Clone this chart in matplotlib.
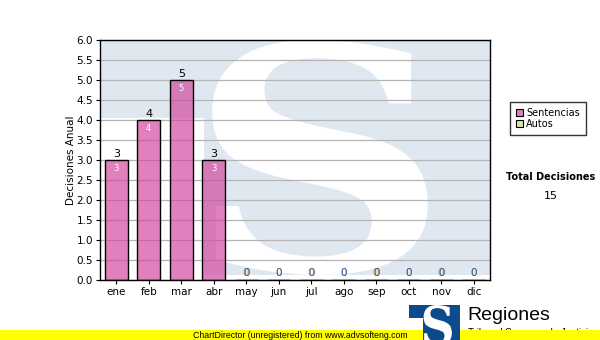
import matplotlib
matplotlib.use("Agg")
import matplotlib.pyplot as plt
from matplotlib.textpath import TextPath
from matplotlib.font_manager import FontProperties
from matplotlib.patches import PathPatch, Polygon, Rectangle
import matplotlib.transforms as mtransforms

# ---- data ----
months = ["ene", "feb", "mar", "abr", "may", "jun", "jul", "ago", "sep", "oct", "nov", "dic"]
sentencias = [3, 4, 5, 3, 0, 0, 0, 0, 0, 0, 0, 0]
autos = [0, 0, 0, 0, 0, 0, 0, 0, 0, 0, 0, 0]
series_names = ["Sentencias", "Autos"]
y_ticks = [0.0, 0.5, 1.0, 1.5, 2.0, 2.5, 3.0, 3.5, 4.0, 4.5, 5.0, 5.5, 6.0]
y_label = "Decisiones Anual"
total_title = "Total Decisiones"
total_value = sum(sentencias) + sum(autos)

W, H = 600, 340
fig = plt.figure(figsize=(W / 100, H / 100), dpi=100)
fig.patch.set_facecolor("white")


def px(x, y):
    """pixel coords (from top-left) -> figure fraction"""
    return x / W, 1 - y / H


pix2fig = mtransforms.Affine2D().scale(1 / W, -1 / H).translate(0, 1) + fig.transFigure


def logo(target, x0, y0, x1, y1, blue, white, zorder, clip=None):
    w, h = x1 - x0, y1 - y0
    stem_x = x0 + 0.265 * w
    bar_y = y0 + 0.33 * h
    poly = Polygon([(x0, y0), (x1, y0), (x1, y1), (stem_x, y1), (stem_x, bar_y), (x0, bar_y)],
                   closed=True, facecolor=blue, edgecolor="none", transform=pix2fig, zorder=zorder)
    tp = TextPath((0, 0), "S", size=100, prop=FontProperties(family="DejaVu Serif", weight="bold"))
    ext = tp.get_extents()
    sx0, sx1 = x0 + 0.286 * w, x0 + 0.84 * w
    tr = (mtransforms.Affine2D().translate(-ext.x0, -ext.y0)
          .scale((sx1 - sx0) / ext.width, -(h) / ext.height)
          .translate(sx0, y1)) + pix2fig
    sp = PathPatch(tp, facecolor=white, edgecolor="none", transform=tr, zorder=zorder + 0.01)
    for p in (poly, sp):
        target.add_artist(p)
        if clip is not None:
            p.set_clip_path(clip)


# ---- axes ----
ax = fig.add_axes([100 / W, 60 / H, 390 / W, 240 / H])
ax.set_facecolor("white")
ax.set_xlim(-0.5, len(months) - 0.5)
ax.set_ylim(0, 6)

logo(ax, 101, 40, 490, 275, "#dfe8f1", "white", 0.2, clip=ax.patch)

ax.set_yticks(y_ticks)
ax.set_yticklabels([f"{v:.1f}" for v in y_ticks], fontsize=7.5)
ax.set_xticks(range(len(months)))
ax.set_xticklabels(months, fontsize=7.5)
ax.tick_params(axis="both", direction="out", length=3, width=0.8, colors="black", pad=2)
ax.yaxis.grid(True, color="#b4b4b4", linewidth=0.9, zorder=1)
ax.set_axisbelow(True)
for s in ax.spines.values():
    s.set_color("black")
    s.set_linewidth(1.0)
ax.set_ylabel(y_label, fontsize=7.5, labelpad=0)

x = list(range(len(months)))
ax.bar(x, sentencias, width=0.71, color="#d34aa2", alpha=0.7, edgecolor="none", zorder=2)
ax.bar(x, sentencias, width=0.71, facecolor="none", edgecolor="black", linewidth=1.0, zorder=2.1)
ax.bar(x, autos, bottom=sentencias, width=0.71, color="#d8e8a0", edgecolor="none", zorder=2)

for xi, v, a in zip(x, sentencias, autos):
    if v > 0:
        ax.annotate(str(v), (xi, v), xytext=(0, 1), textcoords="offset points",
                    ha="center", va="bottom", fontsize=8, color="black", zorder=5)
        ax.annotate(str(v), (xi, v), xytext=(0, -3), textcoords="offset points",
                    ha="center", va="top", fontsize=6, color="white", zorder=5)
    else:
        ax.annotate(str(v + a), (xi, 0), xytext=(-0.4, 1.5), textcoords="offset points",
                    ha="center", va="bottom", fontsize=7.5, color="#e08a20", zorder=5)
        ax.annotate(str(v + a), (xi, 0), xytext=(0.2, 1.5), textcoords="offset points",
                    ha="center", va="bottom", fontsize=7.5, color="#1f63b0", zorder=5)

# ---- legend ----
handles = [Rectangle((0, 0), 1, 1, facecolor="#e080c0", edgecolor="black", linewidth=0.8),
           Rectangle((0, 0), 1, 1, facecolor="#d8e8a0", edgecolor="black", linewidth=0.8)]
leg = fig.legend(handles, series_names, loc="upper left", bbox_to_anchor=px(510, 102),
                 fontsize=7, frameon=True, fancybox=False, edgecolor="black",
                 handlelength=0.75, handleheight=0.75, handletextpad=0.3,
                 labelspacing=0.15, borderpad=0.6, borderaxespad=0)
leg.get_frame().set_linewidth(1.0)

fig.text(*px(551, 177), total_title, ha="center", va="center", fontsize=7, fontweight="bold")
fig.text(*px(551, 196), str(total_value), ha="center", va="center", fontsize=8)

# ---- footer ----
fig.text(*px(468, 333.5), "Tribunal Supremo de Justicia", ha="left", va="center",
         fontsize=7, family="Liberation Sans", zorder=1)
fig.add_artist(Rectangle(px(0, 340), 1, 10 / H, transform=fig.transFigure,
                         facecolor="#ffff00", edgecolor="none", zorder=2))
fig.text(*px(300, 335), "ChartDirector (unregistered) from www.advsofteng.com",
         ha="center", va="center", fontsize=6.3, family="Liberation Sans", zorder=3)
logo(fig, 409, 305, 460, 345, "#0b4a8b", "white", 4)
fig.text(*px(467, 316), "Regiones", ha="left", va="center", fontsize=14,
         family="Liberation Sans", zorder=4)

fig.savefig("out.png", dpi=100)
